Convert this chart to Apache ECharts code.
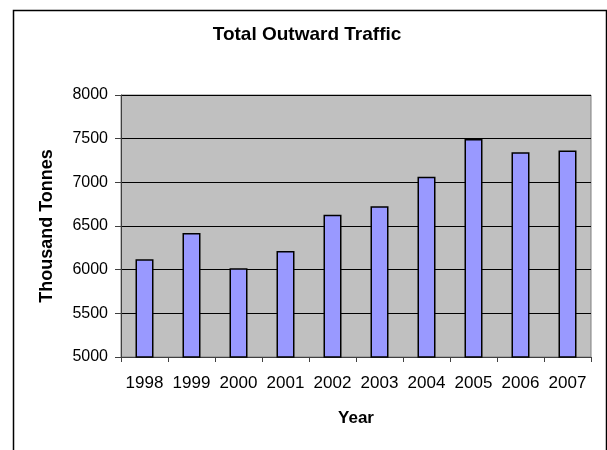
<!DOCTYPE html>
<html>
<head>
<meta charset="utf-8">
<script src="https://cdn.jsdelivr.net/npm/echarts@6/dist/echarts.min.js"></script>
<style>
html,body{margin:0;padding:0;background:#fff;}
#chart{width:607px;height:450px;}
</style>
</head>
<body>
<div id="chart"></div>
<script>
var years = ['1998','1999','2000','2001','2002','2003','2004','2005','2006','2007'];
var traffic = [6120, 6420, 6015, 6215, 6630, 6725, 7065, 7495, 7345, 7365];
var yMin = 5000, yMax = 8000, yStep = 500;

var chart = echarts.init(document.getElementById('chart'), null, {renderer: 'canvas'});
var font = '"Liberation Sans", Arial, sans-serif';
chart.setOption({
  animation: false,
  backgroundColor: '#ffffff',
  title: {
    text: 'Total Outward Traffic',
    left: 302, top: 20, textAlign: 'center',
    textStyle: {fontFamily: font, fontSize: 19, fontWeight: 'bold', color: '#000'}
  },
  graphic: [{
    type: 'rect', left: 11, top: 8, silent: true,
    shape: {x: 0, y: 0, width: 593, height: 470},
    style: {fill: 'none', stroke: '#000', lineWidth: 1.5}
  }],
  grid: {
    left: 121, top: 95, width: 470, height: 262,
    show: true, backgroundColor: '#C0C0C0', borderColor: '#808080', borderWidth: 1
  },
  xAxis: {
    type: 'category', data: years,
    name: 'Year', nameLocation: 'middle', nameGap: 53,
    nameTextStyle: {fontFamily: font, fontSize: 17, fontWeight: 'bold', color: '#000'},
    axisLine: {lineStyle: {color: '#404040', width: 1}},
    axisTick: {show: true, length: 5, interval: 0, lineStyle: {color: '#404040'}},
    axisLabel: {fontFamily: font, fontSize: 17, color: '#000', margin: 18, interval: 0, hideOverlap: false},
    splitLine: {show: false}
  },
  yAxis: {
    type: 'value', min: yMin, max: yMax, interval: yStep,
    name: 'Thousand Tonnes', nameLocation: 'middle', nameGap: 65,
    nameTextStyle: {fontFamily: font, fontSize: 18, fontWeight: 'bold', color: '#000'},
    axisLine: {show: true, lineStyle: {color: '#404040', width: 1}},
    axisTick: {show: true, length: 6, lineStyle: {color: '#404040'}},
    axisLabel: {fontFamily: font, fontSize: 16, color: '#000', margin: 13,
      formatter: function (v) { return String(v); }},
    splitLine: {show: true, lineStyle: {color: '#000', width: 1}}
  },
  series: [{
    type: 'bar', data: traffic, barWidth: 18,
    itemStyle: {color: '#9999FF', borderColor: '#000', borderWidth: 1.5}
  }]
});
</script>
</body>
</html>
